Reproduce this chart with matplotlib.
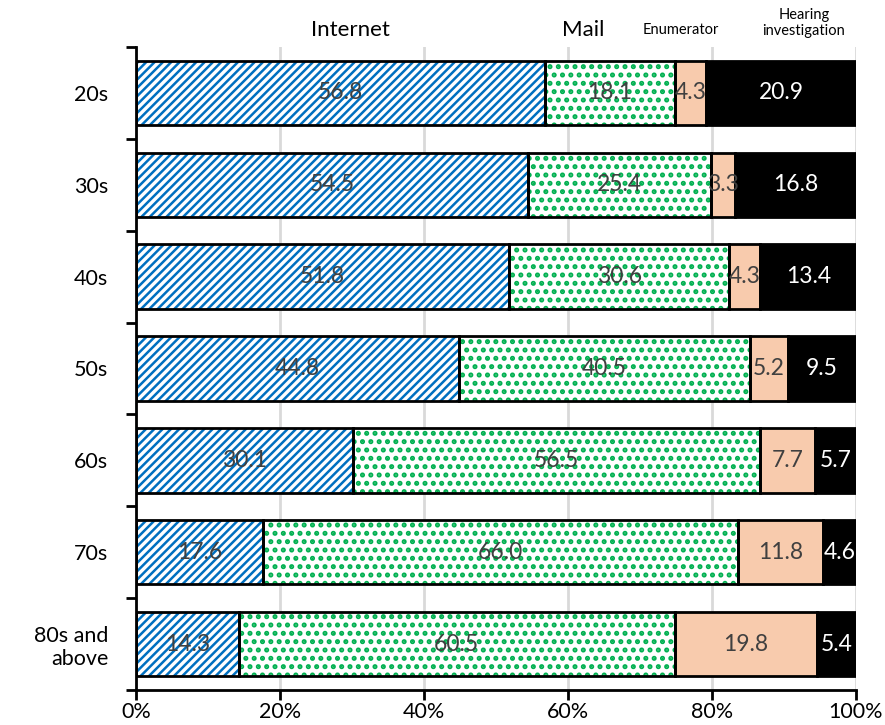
import matplotlib
matplotlib.use("Agg")
import matplotlib.pyplot as plt
import numpy as np
from matplotlib.ticker import FixedLocator

plt.rcParams['font.family'] = ['Lato', 'DejaVu Sans']

categories = ["20s", "30s", "40s", "50s", "60s", "70s", "80s and\nabove"]
internet = [56.8, 54.5, 51.8, 44.8, 30.1, 17.6, 14.3]
mail = [18.1, 25.4, 30.6, 40.5, 56.5, 66.0, 60.5]
enumerator = [4.3, 3.3, 4.3, 5.2, 7.7, 11.8, 19.8]
hearing = [20.9, 16.8, 13.4, 9.5, 5.7, 4.6, 5.4]
series_names = ["Internet", "Mail", "Enumerator", "Hearing\ninvestigation"]
xticks = [0, 20, 40, 60, 80, 100]
xticklabels = ["0%", "20%", "40%", "60%", "80%", "100%"]

fig = plt.figure(figsize=(8.85, 7.25), dpi=100)
ax = fig.add_axes([136/885, 35/725, 720/885, 643/725])

y = np.arange(len(categories))
h = 0.7
series = [internet, mail, enumerator, hearing]
styles = [
    dict(face="white", hatch="////", hcol="#0070C0", hlw=1.8),
    dict(face="white", hatch="..", hcol="#00B050", hlw=2.4),
    dict(face="#F8CBAD", hatch=None, hcol=None, hlw=1.0),
    dict(face="black", hatch=None, hcol=None, hlw=1.0),
]
txtcols = ["#404040", "#404040", "#404040", "white"]

left = np.zeros(len(categories))
for vals, st, tc in zip(series, styles, txtcols):
    vals = np.array(vals)
    with plt.rc_context({'hatch.linewidth': st["hlw"]}):
        if st["hatch"]:
            ax.barh(y, vals, left=left, height=h, color=st["face"], hatch=st["hatch"],
                    edgecolor=st["hcol"], linewidth=0, zorder=2)
        else:
            ax.barh(y, vals, left=left, height=h, color=st["face"], linewidth=0, zorder=2)
    ax.barh(y, vals, left=left, height=h, fill=False, edgecolor="black",
            linewidth=2.0, zorder=3)
    for yi, l, v in zip(y, left, vals):
        ax.text(l + v / 2, yi, f"{v:.1f}", ha="center", va="center",
                fontsize=16.5, color=tc, zorder=4)
    left = left + vals

ax.set_xlim(0, 100)
ax.set_ylim(len(categories) - 0.5, -0.5)
ax.set_xticks(xticks)
ax.set_xticklabels(xticklabels, fontsize=15.5)
ax.set_yticks(y)
ax.set_yticklabels(categories, fontsize=15.5)
ax.tick_params(axis="y", which="major", length=0, pad=20)
ax.yaxis.set_minor_locator(FixedLocator(np.arange(-0.5, len(categories), 1)))
ax.tick_params(axis="y", which="minor", length=7, width=2, direction="out")
ax.tick_params(axis="x", length=7, width=2, direction="out", pad=2)
for s in ["top", "right"]:
    ax.spines[s].set_visible(False)
for s in ["left", "bottom"]:
    ax.spines[s].set_linewidth(2)
ax.xaxis.grid(True, color="#D9D9D9", linewidth=2, zorder=0)
ax.set_axisbelow(True)

# series header labels
fig.text(350/885, 1 - 30/725, series_names[0], ha="center", va="center", fontsize=16)
fig.text(583/885, 1 - 30/725, series_names[1], ha="center", va="center", fontsize=16)
fig.text(681/885, 1 - 30/725, series_names[2], ha="center", va="center", fontsize=10.5)
fig.text(804/885, 1 - 23/725, series_names[3], ha="center", va="center", fontsize=10.5,
         linespacing=1.2)

fig.savefig("out.png", dpi=100)
